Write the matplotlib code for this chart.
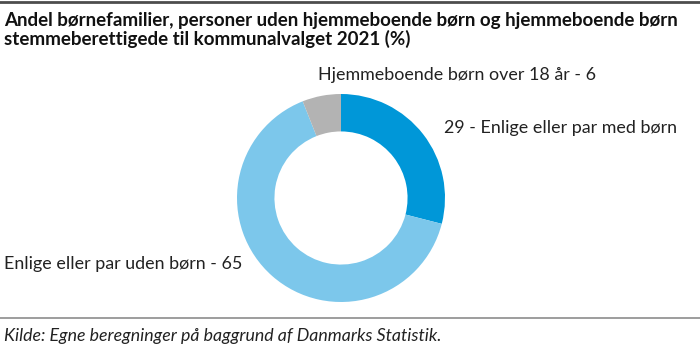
import matplotlib.pyplot as plt
from matplotlib.lines import Line2D

# data
categories = ['Enlige eller par med børn', 'Enlige eller par uden børn', 'Hjemmeboende børn over 18 år']
values = [29, 65, 6]
colors = ['#0097d8', '#7cc7eb', '#b3b3b3']

title = ('Andel børnefamilier, personer uden hjemmeboende børn og hjemmeboende børn\n'
         'stemmeberettigede til kommunalvalget 2021 (%)')
source = 'Kilde: Egne beregninger på baggrund af Danmarks Statistik.'

plt.rcParams['font.family'] = ['Lato', 'DejaVu Sans']

W, H = 700, 348
fig = plt.figure(figsize=(W / 100, H / 100), dpi=100)

# donut
cx, cy, r = 341, 198, 104
ax = fig.add_axes([(cx - r) / W, (H - cy - r) / H, 2 * r / W, 2 * r / H])
ax.pie(values, colors=colors, startangle=90, counterclock=False,
       wedgeprops=dict(width=0.36, edgecolor='none'))
ax.set_aspect('equal')
ax.set_xlim(-1, 1)
ax.set_ylim(-1, 1)
ax.axis('off')

def px(x, y):
    return x / W, 1 - y / H

# title and rules
fig.add_artist(Line2D([0, 1], [1 - 1.5 / H] * 2, color='#4d4d4d', lw=2))
fig.text(*px(4, 30), title, fontsize=13.5, fontweight='bold', va='center',
         ha='left', linespacing=1.12, color='#111111')
fig.add_artist(Line2D([0, 1], [1 - 318 / H] * 2, color='#8c8c8c', lw=1.2))
fig.text(*px(4, 336), source, fontsize=12.8, style='italic', va='center',
         ha='left', color='#222222')

# slice labels
lab_kw = dict(fontsize=12.9, va='center', color='#222222')
fig.text(*px(318, 75), f'{categories[2]} - {values[2]}', ha='left', **lab_kw)
fig.text(*px(444, 128), f'{values[0]} - {categories[0]}', ha='left', **lab_kw)
fig.text(*px(4, 264), f'{categories[1]} - {values[1]}', ha='left', **lab_kw)

fig.savefig('out.png', dpi=100)
